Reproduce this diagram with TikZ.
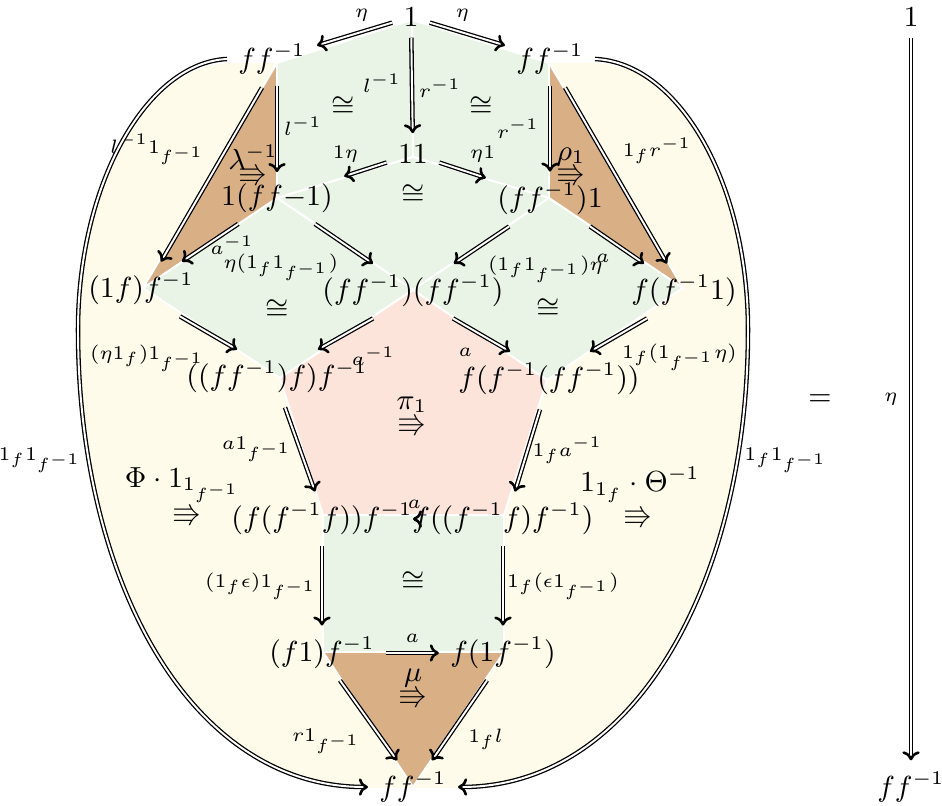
\documentclass[tikz,border=0pt]{standalone}
\usepackage{amssymb}
\usetikzlibrary{arrows.meta,calc}
\definecolor{cgreen}{RGB}{233,244,230}
\definecolor{cbrown}{RGB}{217,176,133}
\definecolor{cpink}{RGB}{252,228,219}
\definecolor{cyellow}{RGB}{254,251,234}
\begin{document}
\begin{tikzpicture}[x=0.31pt,y=-0.31pt,
  every node/.style={font=\fontsize{9}{11}\selectfont},
  arr/.style={double, double distance=0.6pt, line width=0.4pt, -{Computer Modern Rightarrow[length=2.8pt, width=5.4pt, line width'=0.8pt]}},
  lbl/.style={font=\fontsize{6}{7}\selectfont, inner sep=1pt},
  reg/.style={draw=white, line width=0.6pt}]
\useasboundingbox (0,0) rectangle (942,806);
% regions
\fill[cyellow] (277,63) -- (234,63) .. controls (147,63) and (78,183) .. (78,330)
  .. controls (78,580) and (190,788) .. (371,788) -- (455,788)
  .. controls (636,788) and (748,580) .. (748,330)
  .. controls (748,183) and (679,63) .. (592,63) -- (549,63) -- cycle;
\path[reg, fill=cgreen] (412,20) -- (277,63) -- (277,198) -- (413,157) -- cycle;
\path[reg, fill=cgreen] (412,20) -- (549,63) -- (549,198) -- (413,157) -- cycle;
\path[reg, fill=cgreen] (277,198) -- (413,157) -- (549,198) -- (413,290) -- cycle;
\path[reg, fill=cgreen] (277,198) -- (413,290) -- (280,378) -- (143,288) -- cycle;
\path[reg, fill=cgreen] (549,198) -- (683,288) -- (547,380) -- (413,290) -- cycle;
\path[reg, fill=cgreen] (323,515) -- (504,515) -- (504,652) -- (323,652) -- cycle;
\path[reg, fill=cbrown] (277,63) -- (277,198) -- (143,288) -- cycle;
\path[reg, fill=cbrown] (549,63) -- (549,198) -- (683,288) -- cycle;
\path[reg, fill=cbrown] (323,652) -- (504,652) -- (413,787) -- cycle;
\path[reg, fill=cpink] (413,290) -- (547,380) -- (504,515) -- (323,515) -- (280,378) -- cycle;
% objects
\node (one) at (411,17) {$1$};
\node (ffL) at (272,59) {$ff^{-1}$};
\node (ffR) at (550,59) {$ff^{-1}$};
\node (oo) at (413,154) {$11$};
\node (lA) at (277,198) {$1(ff{-}1)$};
\node (rA) at (550,199) {$(ff^{-1})1$};
\node (lB) at (141,289) {$(1f)f^{-1}$};
\node (mB) at (413,291) {$(ff^{-1})(ff^{-1})$};
\node (rB) at (684,291) {$f(f^{-1}1)$};
\node (lC) at (277,377) {$((ff^{-1})f)f^{-1}$};
\node (rC) at (549,379) {$f(f^{-1}(ff^{-1}))$};
\node (lD) at (322,519) {$(f(f^{-1}f))f^{-1}$};
\node (rD) at (503,519) {$f((f^{-1}f)f^{-1})$};
\node (lE) at (322,653) {$(f1)f^{-1}$};
\node (rE) at (503,653) {$f(1f^{-1})$};
\node (bot) at (413,787) {$ff^{-1}$};
\node (one2) at (911,17) {$1$};
\node (bot2) at (911,787) {$ff^{-1}$};
\node (eq) at (820,400) {$=$};
% 2-cells
\node (isoA) at (343,107) {$\cong$};
\node (isoB) at (481,107) {$\cong$};
\node (isoC) at (413,195) {$\cong$};
\node (isoD) at (277,310) {$\cong$};
\node (isoE) at (548,309) {$\cong$};
\node (isoF) at (413,582) {$\cong$};
\node (lamL) at (253,157) {$\lambda^{-1}$};
\node (lamA) at (253,175) {$\Rrightarrow$};
\node (rhoL) at (571,157) {$\rho_1$};
\node (rhoA) at (571,175) {$\Rrightarrow$};
\node (piL) at (412,405) {$\pi_1$};
\node (piA) at (412,425) {$\Rrightarrow$};
\node (phiL) at (183,485) {$\Phi\cdot 1_{1_{f^{-1}}}$};
\node (phiA) at (187,515) {$\Rrightarrow$};
\node (thL) at (640,485) {$1_{1_f}\cdot\Theta^{-1}$};
\node (thA) at (638,517) {$\Rrightarrow$};
\node (muL) at (413,678) {$\mu$};
\node (muA) at (413,697) {$\Rrightarrow$};
% arrows
\draw[arr] (one) -- node[lbl, midway, shift={(7,-19)}] {$\eta$} (ffL);
\draw[arr] (one) -- node[lbl, midway, shift={(-5,-19)}] {$\eta$} (ffR);
\draw[arr] (one) -- node[lbl, midway, shift={(-30,-2)}] {$l^{-1}$}
                    node[lbl, midway, shift={(28,3)}] {$r^{-1}$} (oo);
\draw[arr] (ffL.south -| lA.north) -- node[lbl, midway, shift={(26,-3)}] {$l^{-1}$} (lA.north);
\draw[arr] (ffR.south) -- node[lbl, midway, shift={(-32,0)}] {$r^{-1}$} (rA.north);
\draw[arr] (oo) -- node[lbl, midway, shift={(-20,-15)}] {$1\eta$} (lA);
\draw[arr] (oo) -- node[lbl, midway, shift={(20,-16)}] {$\eta 1$} (rA);
\draw[arr] (lA) -- node[lbl, midway, shift={(22,2)}] {$a^{-1}$} (lB);
\draw[arr] (lA) -- node[lbl, midway, shift={(-63,24)}] {$\eta(1_f1_{f^{-1}})$} (mB);
\draw[arr] (rA) -- node[lbl, midway, shift={(64,24)}] {$(1_f1_{f^{-1}})\eta$} (mB);
\draw[arr] (rA) -- node[lbl, midway, shift={(-14,13)}] {$a$} (rB);
\draw[arr] ($(ffL.south)+(-10,2)$) -- node[lbl, midway, shift={(-54,-25)}] {$l^{-1}1_{f^{-1}}$} ($(lB.north)+(20,0)$);
\draw[arr] ($(ffR.south)+(15,2)$) -- node[lbl, midway, shift={(41,-25)}] {$1_fr^{-1}$} ($(rB.north)+(-17,0)$);
\draw[arr] ($(lB.south)+(39,0)$) -- node[lbl, midway, shift={(-61,25)}] {$(\eta1_f)1_{f^{-1}}$} ($(lC.north)+(-40,0)$);
\draw[arr] ($(mB.south)+(-40,0)$) -- node[lbl, midway, shift={(28,22)}] {$a^{-1}$} ($(lC.north)+(41,0)$);
\draw[arr] ($(mB.south)+(40,0)$) -- node[lbl, midway, shift={(-16,17)}] {$a$} ($(rC.north)+(-39,0)$);
\draw[arr] ($(rB.south)+(-37,0)$) -- node[lbl, midway, shift={(61,22)}] {$1_f(1_{f^{-1}}\eta)$} ($(rC.north)+(41,0)$);
\draw[arr] ($(lC.south)+(8,3)$) -- node[lbl, midway, shift={(-43,0)}] {$a1_{f^{-1}}$} ($(lD.north)+(-7,0)$);
\draw[arr] ($(rC.south)+(-9,3)$) -- node[lbl, midway, shift={(40,0)}] {$1_fa^{-1}$} ($(rD.north)+(12,0)$);
\draw[arr] ($(rD.west)+(13,0)$) -- node[lbl, midway, shift={(1,-15)}] {$a$} ($(lD.east)+(-11,0)$);
\draw[arr] (lD.south) -- node[lbl, midway, shift={(-61,0)}] {$(1_f\epsilon)1_{f^{-1}}$} (lE.north -| lD.south);
\draw[arr] (rD.south) -- node[lbl, midway, shift={(60,0)}] {$1_f(\epsilon1_{f^{-1}})$} (rE.north -| rD.south);
\draw[arr] (lE) -- node[lbl, midway, shift={(0,-15)}] {$a$} (rE);
\draw[arr] ($(lE.south)+(18,0)$) -- node[lbl, midway, shift={(-42,21)}] {$r1_{f^{-1}}$} ($(bot.north)+(-16,0)$);
\draw[arr] ($(rE.south)+(-16,0)$) -- node[lbl, midway, shift={(26,19)}] {$1_fl$} ($(bot.north)+(19,0)$);
\draw[arr] (ffL.west) .. controls (147,63) and (78,183) .. (78,330)
  .. controls (78,580) and (190,788) .. node[lbl, pos=0.18, anchor=east, xshift=-1pt] {$1_f1_{f^{-1}}$} (bot.west);
\draw[arr] (ffR.east) .. controls (679,63) and (748,183) .. (748,330)
  .. controls (748,580) and (636,788) .. node[lbl, pos=0.18, anchor=west, xshift=1pt] {$1_f1_{f^{-1}}$} (bot.east);
\draw[arr] (one2) -- node[lbl, midway, left, xshift=-3pt] {$\eta$} (bot2);
\end{tikzpicture}
\end{document}
